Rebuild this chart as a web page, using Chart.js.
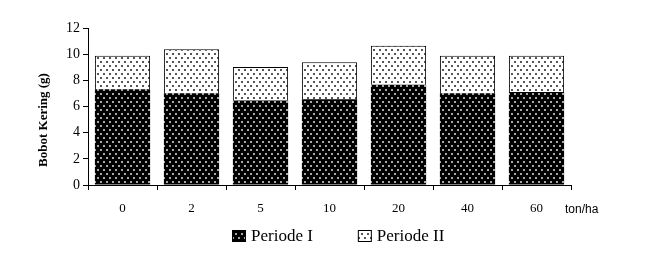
<!DOCTYPE html>
<html>
<head>
<meta charset="utf-8">
<script src="https://cdn.jsdelivr.net/npm/chart.js@4"></script>
<style>
html,body{margin:0;padding:0;background:#fff;}
#wrap{width:647px;height:258px;position:relative;}
</style>
</head>
<body>
<div id="wrap"><canvas id="c" width="647" height="258"></canvas></div>
<script>
const categories = ['0','2','5','10','20','40','60'];
const periode1 = [7.32, 7.01, 6.45, 6.55, 7.67, 7.01, 7.11];
const periode2 = [2.56, 3.36, 2.57, 2.83, 2.98, 2.87, 2.77];
const yTicks = [0,2,4,6,8,10,12];
const yTitle = 'Bobot Kering (g)';
const xUnit = 'ton/ha';

const SERIF = '"Liberation Serif", "Times New Roman", serif';

function makePattern(bg, dot){
  const c = document.createElement('canvas');
  c.width = 6; c.height = 8;
  const x = c.getContext('2d');
  x.fillStyle = bg; x.fillRect(0,0,6,8);
  x.fillStyle = dot;
  x.fillRect(1,1,2,2);
  x.fillRect(4,5,2,2);
  return x.createPattern(c,'repeat');
}
const ctx = document.getElementById('c').getContext('2d');
const pat1 = makePattern('#000000', '#a8a8a8');
const pat2 = makePattern('#ffffff', '#555555');

const extras = {
  id:'extras',
  afterDraw(chart){
    const c = chart.ctx;
    const ca = chart.chartArea;
    c.save();
    c.font = '12px "Liberation Sans", Arial, sans-serif';
    c.fillStyle = '#000';
    c.textAlign = 'left';
    c.textBaseline = 'middle';
    c.fillText(xUnit, ca.right - 6, 210);
    c.save();
    c.translate(44, 120);
    c.rotate(-Math.PI/2);
    c.font = 'bold 13px ' + SERIF;
    c.textAlign = 'center';
    c.textBaseline = 'middle';
    c.fillText(yTitle, 0, 0);
    c.restore();
    c.font = '17px ' + SERIF;
    c.textAlign = 'left';
    c.textBaseline = 'middle';
    let x = 232;
    const yc = 236;
    chart.data.datasets.forEach(ds => {
      c.fillStyle = ds.backgroundColor;
      c.fillRect(x, yc - 6, 14, 12);
      c.strokeStyle = '#000';
      c.lineWidth = 1;
      c.strokeRect(x + 0.5, yc - 5.5, 13, 11);
      c.fillStyle = '#000';
      c.fillText(ds.label, x + 19, yc + 1);
      x += 19 + c.measureText(ds.label).width + 45;
    });
    c.restore();
  }
};

new Chart(ctx, {
  type:'bar',
  data:{
    labels: categories,
    datasets:[
      {label:'Periode I', data: periode1, backgroundColor: pat1, borderColor:'#000', borderWidth:0, barPercentage:0.8, categoryPercentage:1},
      {label:'Periode II', data: periode2, backgroundColor: pat2, borderColor:'#000', borderWidth:1, barPercentage:0.8, categoryPercentage:1}
    ]
  },
  options:{
    responsive:false,
    animation:false,
    devicePixelRatio:1,
    layout:{padding:{left:30, right:76, top:28, bottom:33}},
    plugins:{
      legend:{display:false},
      tooltip:{enabled:false}
    },
    scales:{
      x:{
        stacked:true,
        grid:{drawOnChartArea:false, tickLength:5, color:'#000', offset:true},
        border:{color:'#000', width:1},
        ticks:{font:{family:SERIF, size:13}, color:'#000', padding:11},
        afterFit(s){ s.height = 40; }
      },
      y:{
        stacked:true,
        min:0, max:12,
        afterBuildTicks(s){ s.ticks = yTicks.map(v=>({value:v})); },
        grid:{drawOnChartArea:false, tickLength:5, color:'#000'},
        border:{color:'#000', width:1},
        ticks:{font:{family:SERIF, size:14}, color:'#000', padding:3},
        afterFit(s){ s.width = 58; }
      }
    }
  },
  plugins:[extras]
});
</script>
</body>
</html>
